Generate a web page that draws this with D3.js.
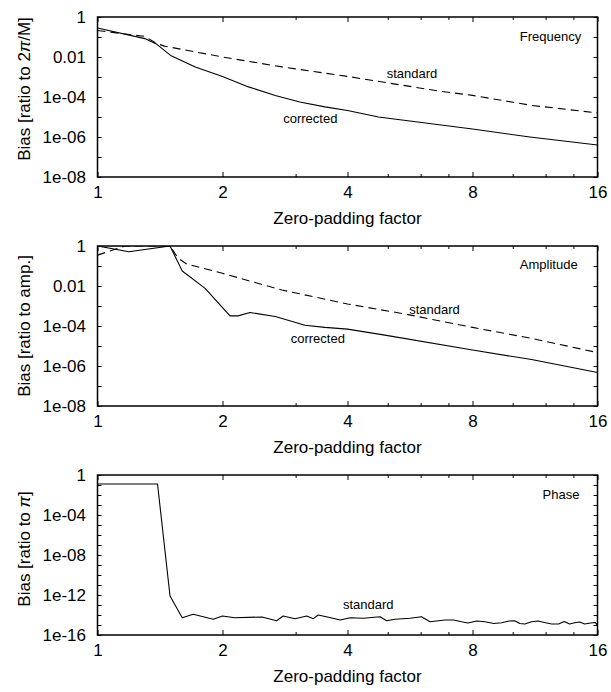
<!DOCTYPE html>
<html>
<head>
<meta charset="utf-8">
<script src="https://cdn.jsdelivr.net/npm/d3@7"></script>
<style>
body { margin: 0; background: #fff; }
svg { display: block; font-family: "Liberation Sans", Arial, Helvetica, sans-serif; }
</style>
</head>
<body>
<div class="bias-chart"></div>
<script>

// x axis: zero-padding factor (log2)
const xTicks = [1, 2, 3, 4, 5, 6, 7, 8, 10, 12, 14, 16];
const xLabelTicks = [1, 2, 4, 8, 16];

// y tick labels
const freqTickValues = [1, 1e-2, 1e-4, 1e-6, 1e-8];
const freqTickLabels = ["1", "0.01", "1e-04", "1e-06", "1e-08"];
const ampTickValues = [1, 1e-2, 1e-4, 1e-6, 1e-8];
const ampTickLabels = ["1", "0.01", "1e-04", "1e-06", "1e-08"];
const phaseTickValues = [1, 1e-4, 1e-8, 1e-12, 1e-16];
const phaseTickLabels = ["1", "1e-04", "1e-08", "1e-12", "1e-16"];

// Frequency bias
const freqCorrected = [
    [1, 0.28], [1.3, 0.083], [1.39, 0.043], [1.5, 0.012], [1.72, 3.2e-3],
    [2, 1.07e-3], [2.31, 3.2e-4], [2.68, 1.2e-4], [3.07, 5.6e-5], [3.53, 3.2e-5],
    [4, 2.1e-5], [4.75, 1e-5], [8, 2.5e-6], [11, 1e-6], [16, 4e-7]
];
const freqStandard = [
    [1, 0.21], [1.3, 0.107], [1.39, 0.047], [1.45, 0.035], [2, 0.01],
    [2.78, 3.2e-3], [4, 1.07e-3], [6.62, 2e-4], [8, 1.2e-4], [11.1, 3.8e-5], [16, 1.6e-5]
];

// Amplitude bias
const ampCorrected = [
    [1, 1.0], [1.19, 0.52], [1.495, 1.0], [1.6, 0.056], [1.816, 7.6e-3],
    [2.085, 3.2e-4], [2.18, 3.2e-4], [2.33, 4.7e-4], [2.68, 3e-4], [3.16, 1.1e-4],
    [3.53, 8.5e-5], [4, 7e-5], [4.92, 3.5e-5], [8, 6.3e-6], [11.1, 2.1e-6], [16, 4.7e-7]
];
const ampStandard = [
    [1, 0.35], [1.165, 1.0], [1.495, 1.0], [1.565, 0.24], [1.64, 0.126],
    [2, 0.043], [2.78, 6.3e-3], [4, 1.26e-3], [5.5, 4e-4], [8, 8.5e-5],
    [11.1, 2.4e-5], [16, 4.7e-6]
];

// Phase bias
const phaseStandard = [
    [1, 0.126], [1.395, 0.126], [1.495, 7.9e-13], [1.6, 5.4e-15], [1.7, 1.2e-14],
    [1.9, 3.7e-15], [2, 7.9e-15], [2.14, 5.4e-15], [2.49, 6.3e-15], [2.7, 2.7e-15],
    [2.8, 7.9e-15], [2.99, 4.3e-15], [3.19, 7.9e-15], [3.31, 4.3e-15], [3.4, 1e-14],
    [3.6, 5.9e-15], [3.84, 3.2e-15], [4.06, 5.4e-15], [4.37, 4.7e-15], [4.79, 6.8e-15],
    [4.97, 2.7e-15], [5.2, 3.7e-15], [5.66, 4.7e-15], [6.03, 6.8e-15], [6.32, 2.1e-15],
    [6.87, 3.2e-15], [7.2, 3.2e-15], [7.53, 2.1e-15], [7.8, 1.6e-15], [8.2, 2.5e-15],
    [8.57, 2.1e-15], [9, 1.4e-15], [9.4, 1.7e-15], [9.8, 2.5e-15], [10.1, 2.7e-15],
    [10.4, 1.4e-15], [10.7, 1.26e-15], [11.1, 2.1e-15], [11.5, 2.5e-15], [12, 1.7e-15],
    [12.4, 1.26e-15], [12.9, 1.26e-15], [13.3, 2.2e-15], [13.7, 1.26e-15], [14.1, 1.7e-15],
    [14.5, 2e-15], [14.9, 1.26e-15], [15.4, 1.6e-15], [15.8, 1.8e-15], [16, 9.3e-16]
];

// in-plot annotations, data coordinates
const freqNotes = [["Frequency", 10.4, 0.063], ["standard", 4.97, 9.2e-4], ["corrected", 2.8, 5.2e-6]];
const ampNotes = [["Amplitude", 10.4, 0.071], ["standard", 5.63, 4e-4], ["corrected", 2.92, 1.36e-5]];
const phaseNotes = [["Phase", 11.8, 4e-3], ["standard", 3.9, 4e-14]];

const width = 611, height = 692;
const plotLeft = 97.5, plotRight = 597.5, plotHeight = 160;

const panels = [
    {top: 17, yMin: 1e-8, tickValues: freqTickValues, tickLabels: freqTickLabels,
     title: ["Bias [ratio to 2", "π", "/M]"], titleShift: -8,
     series: [[freqCorrected, null], [freqStandard, "8,5"]], notes: freqNotes},
    {top: 246, yMin: 1e-8, tickValues: ampTickValues, tickLabels: ampTickLabels,
     title: ["Bias [ratio to amp.]"], titleShift: 0,
     series: [[ampCorrected, null], [ampStandard, "8,5"]], notes: ampNotes},
    {top: 475, yMin: 1e-16, tickValues: phaseTickValues, tickLabels: phaseTickLabels,
     title: ["Bias [ratio to ", "π", "]"], titleShift: -6,
     series: [[phaseStandard, null]], notes: phaseNotes}
];

const svg = d3.select(".bias-chart").append("svg")
    .attr("width", width)
    .attr("height", height);

const x = d3.scaleLog().base(2)
    .domain([1, 16])
    .range([plotLeft, plotRight]);

panels.forEach((p, i) => {

    const bottom = p.top + plotHeight;

    const y = d3.scaleLog()
        .domain([p.yMin, 1])
        .range([bottom, p.top]);

    const decades = d3.range(Math.round(Math.log10(p.yMin)), 1).map(e => Math.pow(10, e));
    const labelMap = new Map(p.tickValues.map((v, k) => [v, p.tickLabels[k]]));

    const g = svg.append("g");

    g.append("clipPath")
        .attr("id", "clip" + i)
        .append("rect")
        .attr("x", plotLeft)
        .attr("y", p.top)
        .attr("width", plotRight - plotLeft)
        .attr("height", plotHeight);

    // x ticks, bottom and top, all inward
    const xMinor = xTicks.filter(t => !xLabelTicks.includes(t));

    g.append("g")
        .attr("transform", `translate(0,${bottom})`)
        .call(d3.axisBottom(x).tickValues(xLabelTicks).tickSize(-5).tickPadding(9).tickFormat(d3.format("d")));
    g.append("g")
        .attr("transform", `translate(0,${bottom})`)
        .call(d3.axisBottom(x).tickValues(xMinor).tickSize(-3).tickFormat(""));
    g.append("g")
        .attr("transform", `translate(0,${p.top})`)
        .call(d3.axisTop(x).tickValues(xLabelTicks).tickSize(-5).tickFormat(""));
    g.append("g")
        .attr("transform", `translate(0,${p.top})`)
        .call(d3.axisTop(x).tickValues(xMinor).tickSize(-3).tickFormat(""));

    // y ticks, left and right
    g.append("g")
        .attr("transform", `translate(${plotLeft},0)`)
        .call(d3.axisLeft(y).tickValues(decades).tickSize(-4).tickPadding(11.5)
            .tickFormat(d => labelMap.has(d) ? labelMap.get(d) : ""));
    g.append("g")
        .attr("transform", `translate(${plotRight},0)`)
        .call(d3.axisRight(y).tickValues(decades).tickSize(-4).tickFormat(""));

    g.selectAll(".domain").remove();
    g.selectAll(".tick line").attr("stroke", "#000").attr("stroke-width", 1);
    g.selectAll(".tick text")
        .attr("fill", "#000")
        .attr("font-size", 17)
        .attr("font-family", "Liberation Sans, Arial, sans-serif");

    // curves
    const line = d3.line()
        .x(d => x(d[0]))
        .y(d => y(d[1]));

    p.series.forEach(([data, dash]) => {
        g.append("path")
            .datum(data)
            .attr("clip-path", `url(#clip${i})`)
            .attr("fill", "none")
            .attr("stroke", "#000")
            .attr("stroke-width", 1.1)
            .attr("stroke-dasharray", dash)
            .attr("stroke-linejoin", "round")
            .attr("d", line);
    });

    // frame
    g.append("rect")
        .attr("x", plotLeft)
        .attr("y", p.top)
        .attr("width", plotRight - plotLeft)
        .attr("height", plotHeight)
        .attr("fill", "none")
        .attr("stroke", "#000")
        .attr("stroke-width", 1.5);

    // annotations
    g.selectAll(".note")
        .data(p.notes)
        .join("text")
        .attr("class", "note")
        .attr("x", d => x(d[1]))
        .attr("y", d => y(d[2]))
        .attr("font-size", 13)
        .attr("fill", "#000")
        .text(d => d[0]);

    // axis titles
    g.append("text")
        .attr("x", (plotLeft + plotRight) / 2)
        .attr("y", bottom + 47)
        .attr("text-anchor", "middle")
        .attr("font-size", 17)
        .text("Zero-padding factor");

    const yTitle = g.append("text")
        .attr("transform", `translate(29.5,${p.top + plotHeight / 2 + p.titleShift}) rotate(-90)`)
        .attr("text-anchor", "middle")
        .attr("font-size", 17);
    p.title.forEach(part => {
        yTitle.append("tspan")
            .attr("font-style", part === "π" ? "italic" : null)
            .text(part);
    });
});

</script>
</body>
</html>
